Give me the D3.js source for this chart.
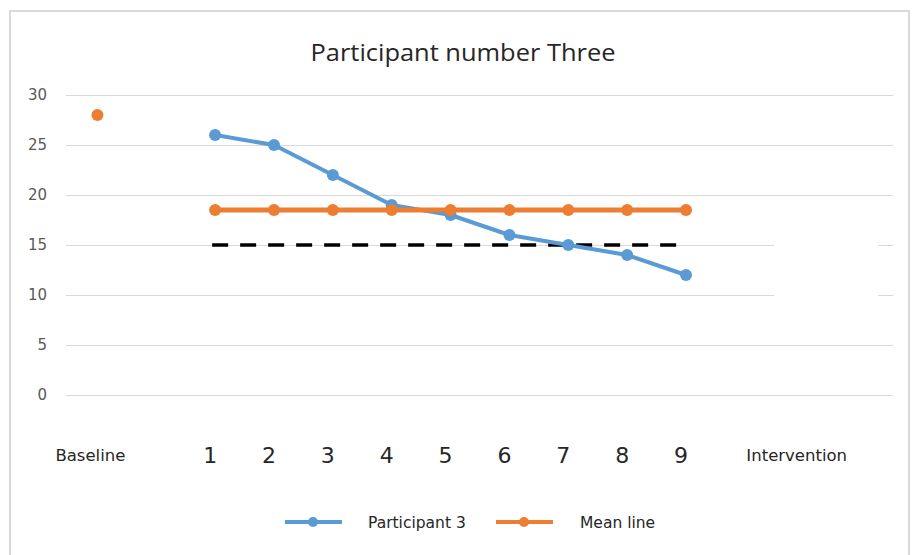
<!DOCTYPE html>
<html><head><meta charset="utf-8">
<script src="https://cdn.jsdelivr.net/npm/d3@7"></script>
<style>body{margin:0;background:#fff}svg{display:block}</style>
</head><body>
<script>
const categories = ["Baseline", "", "1", "2", "3", "4", "5", "6", "7", "8", "9", "", "Intervention", ""];
const participantValues = [null, null, 26, 25, 22, 19, 18, 16, 15, 14, 12, null, null, null];
const meanValues = [28, null, 18.5, 18.5, 18.5, 18.5, 18.5, 18.5, 18.5, 18.5, 18.5, null, null, null];
const criterionLine = { value: 15, from: 2, to: 10 };
const yTicks = [0, 5, 10, 15, 20, 25, 30];
const seriesNames = ["Participant 3", "Mean line"];
const colors = ["#5b9bd5", "#ed7d31"];

const W = 913, H = 555;
const svg = d3.select("body").append("svg").attr("width", W).attr("height", H);
const font = "'DejaVu Sans', sans-serif";
const titleFont = "'Open Sans', sans-serif";

// chart frame
svg.append("path").attr("d", `M10,${H} V11 H909 V${H}`).attr("fill", "none")
  .attr("stroke", "#d9d9d9").attr("stroke-width", 2);

const x = d3.scaleBand().domain(d3.range(categories.length)).range([68, 892]);
const cx = i => x(i) + x.bandwidth() / 2;
const y = d3.scaleLinear().domain([0, 30]).range([395, 95]);

// gridlines
svg.append("g").selectAll("line").data(yTicks).join("line")
  .attr("x1", 66).attr("x2", 893).attr("y1", d => y(d) + 0.5).attr("y2", d => y(d) + 0.5)
  .attr("stroke", "#d9d9d9").attr("stroke-width", 1);

// y labels
svg.append("g").selectAll("text").data(yTicks).join("text")
  .attr("x", 47).attr("y", d => y(d)).attr("dy", "0.35em").attr("text-anchor", "end")
  .attr("font-family", font).attr("font-size", 15).attr("fill", "#595959").text(d => d);

// blank box covering part of the gridlines (as in the original)
svg.append("rect").attr("x", 774).attr("y", y(16.2)).attr("width", 104).attr("height", y(9.3) - y(16.2))
  .attr("fill", "#fff");

// x labels
svg.append("g").selectAll("text").data(categories.map((c, i) => ({ c, i })).filter(d => d.c))
  .join("text")
  .attr("x", d => cx(d.i) - (d.c.length > 1 ? 7 : 5)).attr("y", 455).attr("dy", "0.36em")
  .attr("text-anchor", "middle").attr("font-family", font)
  .attr("font-size", d => d.c.length > 1 ? 16.5 : 22).attr("fill", "#262626").text(d => d.c);

// dashed criterion line
svg.append("line").attr("x1", cx(criterionLine.from) - 3).attr("x2", cx(criterionLine.to))
  .attr("y1", y(criterionLine.value)).attr("y2", y(criterionLine.value))
  .attr("stroke", "#000").attr("stroke-width", 3.5).attr("stroke-dasharray", "16,12");

// series
const series = [participantValues, meanValues];
series.forEach((vals, s) => {
  const pts = vals.map((v, i) => ({ v, i })).filter(d => d.v != null);
  const line = d3.line().x(d => cx(d.i)).y(d => y(d.v));
  svg.append("path").datum(pts.filter(d => d.i >= 2)).attr("d", line)
    .attr("fill", "none").attr("stroke", colors[s]).attr("stroke-width", s === 0 ? 4 : 5)
    .attr("stroke-linejoin", "round");
  svg.append("g").selectAll("circle").data(pts).join("circle")
    .attr("cx", d => cx(d.i)).attr("cy", d => y(d.v)).attr("r", 6).attr("fill", colors[s]);
});

// title
svg.append("text").attr("x", 463).attr("y", 53).attr("dy", "0.35em").attr("text-anchor", "middle")
  .attr("font-family", titleFont).attr("font-size", 23).attr("fill", "#262626")
  .attr("textLength", 305).attr("lengthAdjust", "spacingAndGlyphs")
  .text("Participant number Three");

// legend
const legX = [285, 496];
const textX = [368, 580];
seriesNames.forEach((n, s) => {
  svg.append("line").attr("x1", legX[s]).attr("x2", legX[s] + 57).attr("y1", 522).attr("y2", 522)
    .attr("stroke", colors[s]).attr("stroke-width", 4);
  svg.append("circle").attr("cx", legX[s] + 28).attr("cy", 522).attr("r", 5).attr("fill", colors[s]);
  svg.append("text").attr("x", textX[s]).attr("y", 523).attr("dy", "0.35em")
    .attr("font-family", font).attr("font-size", 15.5).attr("fill", "#262626").text(n);
});
</script>
</body></html>
